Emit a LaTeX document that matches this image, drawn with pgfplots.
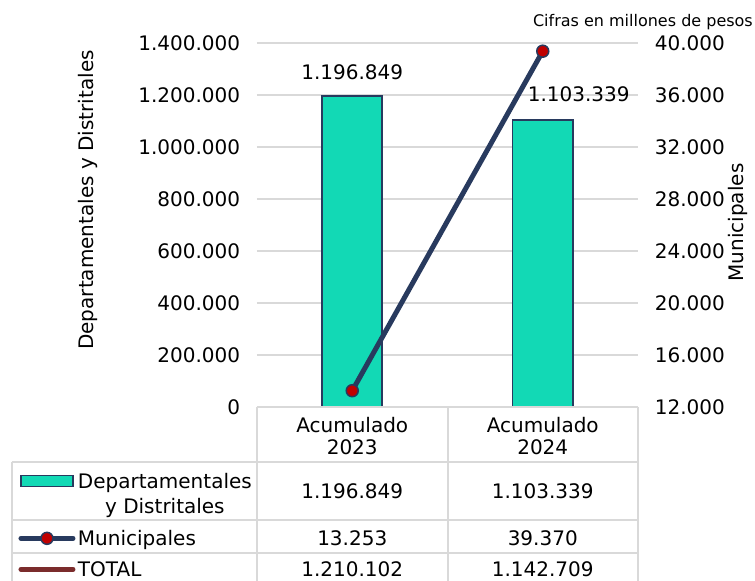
\documentclass[border=0pt]{standalone}
\usepackage{fontspec}
\setmainfont{DejaVu Sans}
\usepackage{pgfplots}
\pgfplotsset{compat=1.18}

\definecolor{barfill}{HTML}{12D9B5}
\definecolor{navy}{HTML}{283A5E}
\definecolor{mred}{HTML}{C00000}
\definecolor{totalc}{HTML}{7B2C2C}
\definecolor{gridc}{HTML}{D9D9D9}

\newcommand\bigf{\fontsize{20bp}{22bp}\selectfont}

\pgfplotsset{
  muni/.style={navy, line width=5bp, line cap=round, mark=*, mark size=6bp,
    mark options={fill=mred, draw=navy, line width=1.5bp}},
  barleg/.style={legend image code/.code={\draw[##1] (0bp,8.25bp) rectangle (52bp,19.25bp);}},
  munileg/.style={legend image code/.code={\draw[mark repeat=2,mark phase=2,##1,sharp plot] plot coordinates {(0bp,0bp) (26bp,0bp) (52bp,0bp)};}},
  totleg/.style={legend image code/.code={\draw[##1] (0bp,0bp) -- (52bp,0bp);}},
  base/.style={width=381bp, height=364bp, scale only axis,
    xmin=-0.5, xmax=1.5, major tick length=0pt,
    axis line style={draw=none},
    tick label style={font=\bigf}, label style={font=\bigf},
    scaled y ticks=false,
    /pgf/number format/fixed, /pgf/number format/precision=0,
    /pgf/number format/1000 sep={.},
    /pgf/number format/assume math mode=true},
}

\begin{document}
\begin{tikzpicture}
\path[use as bounding box] (-257bp,-174bp) rectangle (498bp,407bp);

% barras: Departamentales y Distritales (eje izquierdo)
\begin{axis}[base,
  ybar, bar width=60bp,
  ymin=0, ymax=1400000,
  ytick={0,200000,400000,600000,800000,1000000,1200000,1400000},
  ymajorgrids, grid style={gridc, line width=2bp},
  axis x line=bottom, axis y line=left,
  xtick={0,1}, xticklabels={{Acumulado\\2023},{Acumulado\\2024}},
  xticklabel style={align=center, anchor=north, inner sep=0pt, yshift=-9.8bp,
    font=\fontsize{20bp}{22bp}\selectfont},
  yticklabel style={xshift=-13.3bp},
  ylabel={Departamentales y Distritales},
  every axis y label/.style={at={(axis description cs:-0.4436,0.5687)}, rotate=90,
    anchor=center, font=\bigf},
  legend cell align=left,
  legend style={at={(axis description cs:-0.626,-0.1835)}, anchor=north west,
    draw=none, fill=none, inner sep=0pt, outer sep=0pt,
    row sep=14.5bp, column sep=2.5bp,
    nodes={inner sep=0pt, text=black, font=\fontsize{20bp}{25bp}\selectfont}},
]
\addplot[fill=barfill, draw=navy, line width=1.5bp, barleg,
  nodes near coords,
  visualization depends on={value \thisrow{dx} \as \dx},
  visualization depends on={value \thisrow{dy} \as \dy},
  every node near coord/.append style={anchor=center, xshift=\dx bp, yshift=\dy bp,
    font=\bigf, text=black}]
  table {
x y dx dy
0 1196849 0 24
1 1103339 36 26
};
\addlegendentry[align=center]{Departamentales\\y Distritales}
\addlegendimage{muni, munileg}
\addlegendentry{Municipales}
\addlegendimage{totalc, line width=5bp, line cap=round, totleg}
\addlegendentry{TOTAL}
\end{axis}

% linea: Municipales (eje derecho)
\begin{axis}[base,
  ymin=12000, ymax=40000,
  ytick={12000,16000,20000,24000,28000,32000,36000,40000},
  axis y line*=right, axis x line=none, xtick=\empty,
  yticklabel style={xshift=13.3bp},
  ylabel={Municipales},
  every axis y label/.style={at={(axis description cs:1.2633,0.5069)}, rotate=90,
    anchor=center, font=\bigf},
]
\addplot[muni] coordinates {(0,13253) (1,39370)};
\end{axis}

% tabla de datos
\begin{scope}[gridc, line width=2bp]
\draw (0bp,0bp) -- (381bp,0bp);
\draw (0bp,0bp) -- (0bp,-180bp);
\draw (190.5bp,0bp) -- (190.5bp,-180bp);
\draw (381bp,0bp) -- (381bp,-180bp);
\draw (-245bp,-55bp) -- (-245bp,-180bp);
\draw (-245bp,-55bp) -- (381bp,-55bp);
\draw (-245bp,-112.5bp) -- (381bp,-112.5bp);
\draw (-245bp,-146bp) -- (381bp,-146bp);
\end{scope}
\begin{scope}[every node/.style={anchor=base, font=\bigf, inner sep=0pt}]
\node at (95.25bp,-91bp) {1.196.849};
\node at (285.75bp,-91bp) {1.103.339};
\node at (95.25bp,-138bp) {13.253};
\node at (285.75bp,-138bp) {39.370};
\node at (95.25bp,-169bp) {1.210.102};
\node at (285.75bp,-169bp) {1.142.709};
\end{scope}

\node[anchor=base east, inner sep=0pt, font=\fontsize{16bp}{19bp}\selectfont]
  at (496bp,380bp) {Cifras en millones de pesos};
\end{tikzpicture}
\end{document}
